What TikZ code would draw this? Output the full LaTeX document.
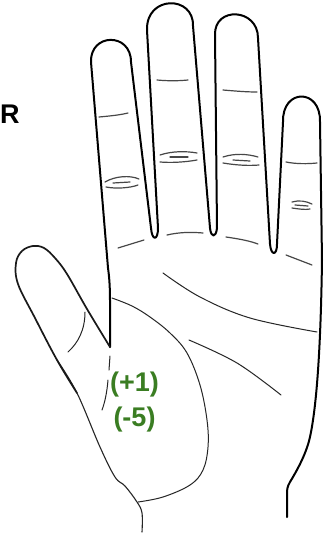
\documentclass[tikz,border=0pt]{standalone}
\usepackage{fontspec}
\setmainfont{Liberation Sans}
\definecolor{leafgreen}{HTML}{3A7D22}
\begin{document}
\begin{tikzpicture}[x=1pt,y=-1pt,
  outline/.style={line width=2.0pt, line join=round, line cap=round, black},
  thumbline/.style={line width=1.7pt, line join=round, line cap=round, black!90},
  thinthumb/.style={line width=1.1pt, line join=round, line cap=round, black!85},
  palmline/.style={line width=1.0pt, line cap=round, black!85},
  crease/.style={line width=1.2pt, line cap=round, black!72},
  lbl/.style={font=\bfseries\fontsize{27}{30}\selectfont, text=leafgreen, inner sep=0pt, anchor=base}]
\useasboundingbox (0,0) rectangle (333,536);
\fill[white] (0,0) rectangle (333,536);

% fingers and right edge of the hand
\draw[outline] (110,347) -- (110,300) .. controls (110,285) and (109,275) .. (108,268) -- (91,62)
 .. controls (90,33) and (131,32) .. (131,62)
 -- (151,228) .. controls (152,241) and (158,241) .. (158,228)
 -- (147,30) .. controls (146,-5) and (194,-5) .. (193,26)
 -- (210,228) .. controls (211,238) and (216,238) .. (217,228)
 -- (215,35) .. controls (214,6) and (258,8) .. (258,38)
 -- (270,244) .. controls (271,256) and (277,256) .. (277,244)
 -- (283,122) .. controls (282,88) and (321,88) .. (320,122)
 -- (322,260) .. controls (321,330) and (318,400) .. (310,437)
 .. controls (306,455) and (296,472) .. (290,482)
 .. controls (287,487) and (287,490) .. (287,495) -- (287,517);

% thumb
\draw[thinthumb] plot[smooth, tension=0.6] coordinates {(142,532) (142,513) (137,502) (125,486) (115,477) (100,447) (77,393) (57,360)};
\draw[thumbline] plot[smooth, tension=0.6] coordinates {(77,393) (57,360) (35,318) (18,284) (16,263) (22,251) (33,246) (44,248) (55,258) (67,274) (87,309) (110,347)};

% palm lines
\draw[palmline] plot[smooth, tension=0.6] coordinates {(112,298) (132,306) (150,317) (170,333) (187,353) (200,385) (207,420) (208,447) (203,470) (190,485) (163,497) (138,502)};
\draw[palmline] plot[smooth, tension=0.6] coordinates {(163,273) (200,297) (250,318) (317,332)};
\draw[palmline] plot[smooth, tension=0.6] coordinates {(189,340) (237,363) (281,395)};
\draw[palmline] (85,312) .. controls (85,330) and (78,343) .. (68,352);
\draw[palmline] (110,356) -- (109,370);
\draw[palmline] (108,380) .. controls (107,392) and (105,402) .. (102,410);

% finger base creases
\draw[crease] (118,248) -- (144,240);
\draw[crease] (167,235) .. controls (180,232) and (192,232) .. (203,233);
\draw[crease] (226,237) .. controls (240,239) and (250,241) .. (258,244);
\draw[crease] (286,255) -- (312,265);

% upper finger creases
\draw[crease] (99,117) .. controls (110,116) and (120,115) .. (128,113);
\draw[crease] (157,80) .. controls (168,81) and (178,81) .. (188,80);
\draw[crease] (223,90) .. controls (235,91) and (246,92) .. (257,92);
\draw[crease] (286,162) .. controls (296,164) and (307,164) .. (317,163);

% lower finger creases
\draw[crease] (105,182) .. controls (115,176) and (130,175) .. (139,179);
\draw[crease] (106,187) .. controls (116,189) and (130,188) .. (138,185);
\draw[crease] (113,183) -- (130,182);
\draw[crease] (160,155) .. controls (172,151) and (186,151) .. (197,153);
\draw[crease] (160,162) .. controls (172,163) and (186,162) .. (197,160);
\draw[crease] (170,157) -- (188,157);
\draw[crease] (223,157) .. controls (235,153) and (248,154) .. (258,157);
\draw[crease] (223,163) .. controls (235,165) and (248,166) .. (259,165);
\draw[crease] (233,160) -- (250,161);
\draw[crease] (292,202) .. controls (299,200) and (306,201) .. (312,204);
\draw[crease] (295,205) -- (308,206);
\draw[crease] (292,208) .. controls (299,209) and (305,210) .. (310,209);

% labels
\node[font=\bfseries\fontsize{27}{30}\selectfont, inner sep=0pt, anchor=base west] (handside) at (0,123) {R};
\node[lbl] (plusone) at (134.5,391.5) {(+1)};
\node[lbl] (minusfive) at (134.5,426.5) {(-5)};
\end{tikzpicture}
\end{document}
